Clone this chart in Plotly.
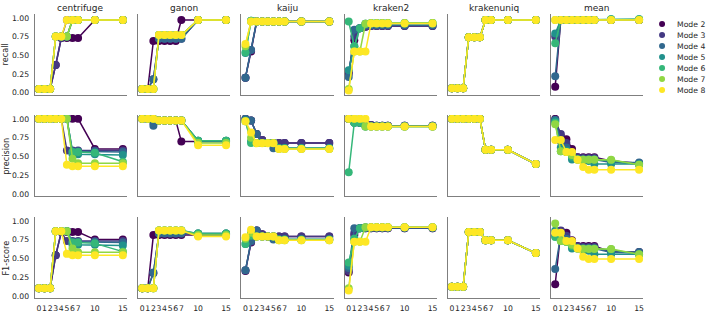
import plotly.graph_objects as go

# ---------------- data ----------------
X = [0, 1, 2, 3, 4, 5, 6, 7, 10, 15]
X_TICKS = [0, 1, 2, 3, 4, 5, 6, 7, 10, 15]
Y_TICKS = [0.0, 0.25, 0.5, 0.75, 1.0]
Y_TICK_TEXT = ["0.00", "0.25", "0.50", "0.75", "1.00"]
MODES = ["Mode 2", "Mode 3", "Mode 4", "Mode 5", "Mode 6", "Mode 7", "Mode 8"]
COLORS = ["#440154", "#443983", "#31688e", "#21918c", "#35b779", "#90d743", "#fde725"]
TOOLS = ["centrifuge", "ganon", "kaiju", "kraken2", "krakenuniq", "mean"]
METRICS = ["recall", "precision", "F1-score"]

# each list: one row per mode (Mode 2 ... Mode 8), values at X
CENTRIFUGE_RECALL = [
    [0.05, 0.05, 0.05, 0.37, 0.73, 0.73, 0.73, 0.73, 0.97, 0.97],
    [0.05, 0.05, 0.05, 0.37, 0.73, 0.97, 0.97, 0.97, 0.97, 0.97],
    [0.05, 0.05, 0.05, 0.75, 0.75, 0.75, 0.97, 0.97, 0.97, 0.97],
    [0.05, 0.05, 0.05, 0.75, 0.75, 0.75, 0.97, 0.97, 0.97, 0.97],
    [0.05, 0.05, 0.05, 0.75, 0.75, 0.75, 0.97, 0.97, 0.97, 0.97],
    [0.05, 0.05, 0.05, 0.75, 0.75, 0.75, 0.97, 0.97, 0.97, 0.97],
    [0.05, 0.05, 0.05, 0.75, 0.75, 0.97, 0.97, 0.97, 0.97, 0.97],
]
CENTRIFUGE_PRECISION = [
    [1.00, 1.00, 1.00, 1.00, 1.00, 1.00, 1.00, 1.00, 0.60, 0.60],
    [1.00, 1.00, 1.00, 1.00, 1.00, 0.58, 0.58, 0.58, 0.58, 0.58],
    [1.00, 1.00, 1.00, 1.00, 1.00, 1.00, 0.57, 0.57, 0.57, 0.56],
    [1.00, 1.00, 1.00, 1.00, 1.00, 1.00, 0.53, 0.53, 0.53, 0.52],
    [1.00, 1.00, 1.00, 1.00, 1.00, 1.00, 0.56, 0.56, 0.55, 0.43],
    [1.00, 1.00, 1.00, 1.00, 1.00, 1.00, 0.47, 0.41, 0.41, 0.41],
    [1.00, 1.00, 1.00, 1.00, 1.00, 0.39, 0.37, 0.37, 0.37, 0.37],
]
CENTRIFUGE_F1 = [
    [0.10, 0.10, 0.10, 0.54, 0.85, 0.85, 0.85, 0.85, 0.75, 0.75],
    [0.10, 0.10, 0.10, 0.54, 0.85, 0.73, 0.73, 0.73, 0.73, 0.73],
    [0.10, 0.10, 0.10, 0.86, 0.86, 0.86, 0.72, 0.72, 0.72, 0.71],
    [0.10, 0.10, 0.10, 0.86, 0.86, 0.86, 0.68, 0.68, 0.68, 0.67],
    [0.10, 0.10, 0.10, 0.86, 0.86, 0.86, 0.71, 0.71, 0.70, 0.59],
    [0.10, 0.10, 0.10, 0.86, 0.86, 0.86, 0.63, 0.58, 0.58, 0.58],
    [0.10, 0.10, 0.10, 0.86, 0.86, 0.56, 0.54, 0.54, 0.54, 0.54],
]

GANON_RECALL = [
    [0.05, 0.05, 0.69, 0.69, 0.69, 0.69, 0.69, 0.97, 0.97, 0.97],
    [0.05, 0.05, 0.18, 0.72, 0.72, 0.72, 0.72, 0.72, 0.97, 0.97],
    [0.05, 0.05, 0.18, 0.72, 0.72, 0.72, 0.72, 0.72, 0.97, 0.97],
    [0.05, 0.05, 0.05, 0.77, 0.77, 0.77, 0.77, 0.77, 0.97, 0.97],
    [0.05, 0.05, 0.05, 0.77, 0.77, 0.77, 0.77, 0.77, 0.97, 0.97],
    [0.05, 0.05, 0.05, 0.77, 0.77, 0.77, 0.77, 0.77, 0.97, 0.97],
    [0.05, 0.05, 0.05, 0.77, 0.77, 0.77, 0.77, 0.77, 0.97, 0.97],
]
GANON_PRECISION = [
    [1.00, 1.00, 1.00, 0.98, 0.98, 0.98, 0.98, 0.70, 0.70, 0.70],
    [1.00, 1.00, 0.95, 0.98, 0.98, 0.98, 0.98, 0.98, 0.70, 0.70],
    [1.00, 1.00, 0.91, 0.98, 0.98, 0.98, 0.98, 0.98, 0.71, 0.71],
    [1.00, 1.00, 1.00, 0.98, 0.98, 0.98, 0.98, 0.98, 0.71, 0.71],
    [1.00, 1.00, 1.00, 0.98, 0.98, 0.98, 0.98, 0.98, 0.71, 0.71],
    [1.00, 1.00, 1.00, 0.98, 0.98, 0.98, 0.98, 0.98, 0.68, 0.68],
    [1.00, 1.00, 1.00, 0.98, 0.98, 0.98, 0.98, 0.98, 0.65, 0.65],
]
GANON_F1 = [
    [0.10, 0.10, 0.81, 0.81, 0.81, 0.81, 0.81, 0.81, 0.81, 0.81],
    [0.10, 0.10, 0.30, 0.83, 0.83, 0.83, 0.83, 0.83, 0.82, 0.82],
    [0.10, 0.10, 0.31, 0.83, 0.83, 0.83, 0.83, 0.83, 0.83, 0.83],
    [0.10, 0.10, 0.10, 0.87, 0.87, 0.87, 0.87, 0.87, 0.83, 0.83],
    [0.10, 0.10, 0.10, 0.87, 0.87, 0.87, 0.87, 0.87, 0.83, 0.83],
    [0.10, 0.10, 0.10, 0.87, 0.87, 0.87, 0.87, 0.87, 0.81, 0.81],
    [0.10, 0.10, 0.10, 0.87, 0.87, 0.87, 0.87, 0.87, 0.79, 0.79],
]

KAIJU_RECALL = [
    [0.20, 0.55, 0.95, 0.95, 0.95, 0.95, 0.95, 0.95, 0.95, 0.95],
    [0.20, 0.57, 0.95, 0.95, 0.95, 0.95, 0.95, 0.95, 0.95, 0.95],
    [0.20, 0.57, 0.95, 0.95, 0.95, 0.95, 0.95, 0.95, 0.95, 0.95],
    [0.53, 0.96, 0.95, 0.95, 0.95, 0.95, 0.95, 0.95, 0.95, 0.95],
    [0.54, 0.96, 0.95, 0.95, 0.95, 0.95, 0.95, 0.95, 0.95, 0.95],
    [0.62, 0.95, 0.95, 0.95, 0.95, 0.95, 0.95, 0.95, 0.95, 0.95],
    [0.65, 0.95, 0.95, 0.95, 0.95, 0.95, 0.95, 0.95, 0.95, 0.95],
]
KAIJU_PRECISION = [
    [1.00, 0.98, 0.80, 0.72, 0.68, 0.68, 0.68, 0.68, 0.68, 0.68],
    [1.00, 0.98, 0.80, 0.72, 0.68, 0.68, 0.68, 0.68, 0.68, 0.68],
    [1.00, 0.98, 0.80, 0.68, 0.68, 0.61, 0.61, 0.61, 0.61, 0.61],
    [0.98, 0.70, 0.68, 0.68, 0.68, 0.68, 0.61, 0.61, 0.61, 0.61],
    [0.97, 0.68, 0.68, 0.68, 0.68, 0.68, 0.61, 0.61, 0.61, 0.61],
    [0.97, 0.75, 0.68, 0.68, 0.68, 0.68, 0.60, 0.60, 0.60, 0.60],
    [0.97, 0.82, 0.675, 0.675, 0.675, 0.675, 0.60, 0.60, 0.60, 0.60],
]
KAIJU_F1 = [
    [0.33, 0.71, 0.87, 0.82, 0.79, 0.79, 0.79, 0.79, 0.79, 0.79],
    [0.34, 0.72, 0.87, 0.82, 0.79, 0.79, 0.79, 0.79, 0.79, 0.79],
    [0.34, 0.73, 0.87, 0.79, 0.79, 0.75, 0.75, 0.75, 0.75, 0.75],
    [0.69, 0.81, 0.79, 0.79, 0.79, 0.79, 0.75, 0.75, 0.75, 0.75],
    [0.69, 0.80, 0.79, 0.79, 0.79, 0.79, 0.75, 0.75, 0.75, 0.75],
    [0.76, 0.84, 0.79, 0.79, 0.79, 0.79, 0.74, 0.74, 0.74, 0.74],
    [0.78, 0.88, 0.79, 0.79, 0.79, 0.79, 0.74, 0.74, 0.74, 0.74],
]

KRAKEN2_RECALL = [
    [0.27, 0.70, 0.86, 0.88, 0.89, 0.89, 0.89, 0.89, 0.89, 0.89],
    [0.25, 0.75, 0.86, 0.88, 0.89, 0.89, 0.89, 0.89, 0.89, 0.89],
    [0.21, 0.84, 0.86, 0.90, 0.90, 0.90, 0.90, 0.90, 0.90, 0.90],
    [0.30, 0.62, 0.86, 0.92, 0.92, 0.92, 0.92, 0.92, 0.92, 0.92],
    [0.95, 0.62, 0.86, 0.92, 0.93, 0.93, 0.93, 0.93, 0.93, 0.93],
    [0.05, 0.55, 0.55, 0.92, 0.93, 0.93, 0.93, 0.93, 0.93, 0.93],
    [0.03, 0.55, 0.55, 0.55, 0.925, 0.925, 0.925, 0.925, 0.925, 0.925],
]
KRAKEN2_PRECISION = [
    [1.00, 0.97, 0.95, 0.93, 0.92, 0.91, 0.91, 0.91, 0.91, 0.91],
    [1.00, 0.97, 0.95, 0.93, 0.92, 0.91, 0.91, 0.91, 0.91, 0.91],
    [1.00, 0.95, 0.95, 0.92, 0.91, 0.91, 0.91, 0.91, 0.91, 0.91],
    [1.00, 0.95, 0.95, 0.90, 0.90, 0.90, 0.90, 0.90, 0.90, 0.90],
    [0.29, 0.95, 0.95, 0.90, 0.90, 0.90, 0.90, 0.90, 0.90, 0.90],
    [1.00, 1.00, 1.00, 0.90, 0.90, 0.90, 0.90, 0.90, 0.90, 0.90],
    [1.00, 1.00, 1.00, 1.00, 0.90, 0.90, 0.90, 0.90, 0.90, 0.90],
]
KRAKEN2_F1 = [
    [0.31, 0.81, 0.90, 0.90, 0.90, 0.90, 0.90, 0.90, 0.90, 0.90],
    [0.33, 0.84, 0.90, 0.90, 0.90, 0.90, 0.90, 0.90, 0.90, 0.90],
    [0.37, 0.90, 0.90, 0.91, 0.91, 0.91, 0.91, 0.91, 0.91, 0.91],
    [0.40, 0.76, 0.90, 0.91, 0.91, 0.91, 0.91, 0.91, 0.91, 0.91],
    [0.445, 0.76, 0.90, 0.91, 0.915, 0.915, 0.915, 0.915, 0.915, 0.915],
    [0.10, 0.72, 0.72, 0.915, 0.915, 0.915, 0.915, 0.915, 0.915, 0.915],
    [0.07, 0.72, 0.72, 0.72, 0.915, 0.915, 0.915, 0.915, 0.915, 0.915],
]

KRAKENUNIQ_RECALL = [
    [0.06, 0.06, 0.06, 0.74, 0.74, 0.74, 0.97, 0.97, 0.97, 0.97],
    [0.06, 0.06, 0.06, 0.74, 0.74, 0.74, 0.97, 0.97, 0.97, 0.97],
    [0.06, 0.06, 0.06, 0.74, 0.74, 0.74, 0.97, 0.97, 0.97, 0.97],
    [0.06, 0.06, 0.06, 0.74, 0.74, 0.74, 0.97, 0.97, 0.97, 0.97],
    [0.06, 0.06, 0.06, 0.74, 0.74, 0.74, 0.97, 0.97, 0.97, 0.97],
    [0.06, 0.06, 0.06, 0.74, 0.74, 0.74, 0.97, 0.97, 0.97, 0.97],
    [0.06, 0.06, 0.06, 0.74, 0.74, 0.74, 0.97, 0.97, 0.97, 0.97],
]
KRAKENUNIQ_PRECISION = [
    [1.00, 1.00, 1.00, 1.00, 1.00, 1.00, 0.59, 0.59, 0.59, 0.40],
    [1.00, 1.00, 1.00, 1.00, 1.00, 1.00, 0.59, 0.59, 0.59, 0.40],
    [1.00, 1.00, 1.00, 1.00, 1.00, 1.00, 0.59, 0.59, 0.59, 0.40],
    [1.00, 1.00, 1.00, 1.00, 1.00, 1.00, 0.59, 0.59, 0.59, 0.40],
    [1.00, 1.00, 1.00, 1.00, 1.00, 1.00, 0.59, 0.59, 0.59, 0.40],
    [1.00, 1.00, 1.00, 1.00, 1.00, 1.00, 0.59, 0.59, 0.59, 0.40],
    [1.00, 1.00, 1.00, 1.00, 1.00, 1.00, 0.59, 0.59, 0.59, 0.40],
]
KRAKENUNIQ_F1 = [
    [0.12, 0.12, 0.12, 0.85, 0.85, 0.85, 0.74, 0.74, 0.74, 0.57],
    [0.12, 0.12, 0.12, 0.85, 0.85, 0.85, 0.74, 0.74, 0.74, 0.57],
    [0.12, 0.12, 0.12, 0.85, 0.85, 0.85, 0.74, 0.74, 0.74, 0.57],
    [0.12, 0.12, 0.12, 0.85, 0.85, 0.85, 0.74, 0.74, 0.74, 0.57],
    [0.12, 0.12, 0.12, 0.85, 0.85, 0.85, 0.74, 0.74, 0.74, 0.57],
    [0.12, 0.12, 0.12, 0.85, 0.85, 0.85, 0.74, 0.74, 0.74, 0.57],
    [0.12, 0.12, 0.12, 0.85, 0.85, 0.85, 0.74, 0.74, 0.74, 0.57],
]

MEAN_RECALL = [
    [0.08, 0.97, 0.97, 0.97, 0.97, 0.97, 0.97, 0.97, 0.97, 0.97],
    [0.75, 0.97, 0.97, 0.97, 0.97, 0.97, 0.97, 0.97, 0.97, 0.97],
    [0.22, 0.97, 0.97, 0.97, 0.97, 0.97, 0.97, 0.97, 0.97, 0.97],
    [0.79, 0.97, 0.97, 0.97, 0.97, 0.97, 0.97, 0.97, 0.98, 0.98],
    [0.66, 0.97, 0.97, 0.97, 0.97, 0.97, 0.97, 0.97, 0.98, 0.98],
    [0.97, 0.97, 0.97, 0.97, 0.97, 0.97, 0.97, 0.97, 0.97, 0.97],
    [0.97, 0.97, 0.97, 0.97, 0.97, 0.97, 0.97, 0.97, 0.97, 0.97],
]
MEAN_PRECISION = [
    [1.00, 0.77, 0.73, 0.60, 0.49, 0.49, 0.49, 0.49, 0.44, 0.41],
    [0.98, 0.80, 0.68, 0.55, 0.49, 0.48, 0.48, 0.48, 0.43, 0.40],
    [0.99, 0.70, 0.62, 0.52, 0.47, 0.46, 0.46, 0.46, 0.42, 0.42],
    [0.97, 0.62, 0.58, 0.46, 0.46, 0.44, 0.44, 0.40, 0.40, 0.40],
    [0.95, 0.57, 0.56, 0.50, 0.46, 0.46, 0.46, 0.46, 0.45, 0.39],
    [0.93, 0.57, 0.56, 0.52, 0.46, 0.456, 0.456, 0.456, 0.456, 0.39],
    [0.72, 0.72, 0.56, 0.56, 0.456, 0.36, 0.325, 0.325, 0.325, 0.325],
]
MEAN_F1 = [
    [0.155, 0.864, 0.84, 0.74, 0.665, 0.665, 0.665, 0.665, 0.586, 0.586],
    [0.80, 0.87, 0.80, 0.70, 0.66, 0.65, 0.65, 0.65, 0.58, 0.57],
    [0.357, 0.82, 0.76, 0.68, 0.64, 0.63, 0.63, 0.63, 0.58, 0.586],
    [0.868, 0.76, 0.72, 0.63, 0.63, 0.60, 0.60, 0.555, 0.555, 0.555],
    [0.785, 0.73, 0.72, 0.66, 0.63, 0.63, 0.63, 0.63, 0.62, 0.55],
    [0.965, 0.73, 0.72, 0.68, 0.63, 0.626, 0.626, 0.626, 0.626, 0.555],
    [0.84, 0.84, 0.73, 0.73, 0.63, 0.52, 0.49, 0.49, 0.49, 0.49],
]

PANELS = {
    ("centrifuge", "recall"): CENTRIFUGE_RECALL,
    ("centrifuge", "precision"): CENTRIFUGE_PRECISION,
    ("centrifuge", "F1-score"): CENTRIFUGE_F1,
    ("ganon", "recall"): GANON_RECALL,
    ("ganon", "precision"): GANON_PRECISION,
    ("ganon", "F1-score"): GANON_F1,
    ("kaiju", "recall"): KAIJU_RECALL,
    ("kaiju", "precision"): KAIJU_PRECISION,
    ("kaiju", "F1-score"): KAIJU_F1,
    ("kraken2", "recall"): KRAKEN2_RECALL,
    ("kraken2", "precision"): KRAKEN2_PRECISION,
    ("kraken2", "F1-score"): KRAKEN2_F1,
    ("krakenuniq", "recall"): KRAKENUNIQ_RECALL,
    ("krakenuniq", "precision"): KRAKENUNIQ_PRECISION,
    ("krakenuniq", "F1-score"): KRAKENUNIQ_F1,
    ("mean", "recall"): MEAN_RECALL,
    ("mean", "precision"): MEAN_PRECISION,
    ("mean", "F1-score"): MEAN_F1,
}

# ---------------- layout ----------------
W, H = 708, 314
FONT = "DejaVu Sans"
TXT = "#262626"
SPINE = "#7f7f7f"
COL_LEFT = [34.8, 138.2, 241.6, 345.0, 448.4, 551.8]
COL_W = 92.4
ROW_DOM = [[0.698, 0.958], [0.3717, 0.6331], [0.0446, 0.3051]]

fig = go.Figure()
layout = {}
for r, metric in enumerate(METRICS):
    for c, tool in enumerate(TOOLS):
        idx = r * 6 + c + 1
        xa = "x" if idx == 1 else f"x{idx}"
        ya = "y" if idx == 1 else f"y{idx}"
        for m, vals in enumerate(PANELS[(tool, metric)]):
            fig.add_trace(go.Scatter(
                x=X, y=vals, mode="lines+markers", xaxis=xa, yaxis=ya,
                line=dict(color=COLORS[m], width=1.5),
                marker=dict(color=COLORS[m], size=8),
                name=MODES[m], showlegend=False, hoverinfo="skip"))
        xk = "xaxis" if idx == 1 else f"xaxis{idx}"
        yk = "yaxis" if idx == 1 else f"yaxis{idx}"
        layout[xk] = dict(
            domain=[COL_LEFT[c] / W, (COL_LEFT[c] + COL_W) / W], anchor=ya,
            range=[-0.75, 15.75], showline=True, linecolor=SPINE, linewidth=1.3,
            showgrid=False, zeroline=False, ticks="", tickvals=X_TICKS,
            tickangle=0, showticklabels=(r == 2), ticklabelstandoff=2,
            tickfont=dict(family=FONT, size=7.7, color=TXT))
        layout[yk] = dict(
            domain=ROW_DOM[r], anchor=xa, range=[-0.03, 1.05],
            showline=True, linecolor=SPINE, linewidth=1.3,
            showgrid=False, zeroline=False, ticks="",
            tickvals=Y_TICKS, ticktext=Y_TICK_TEXT,
            showticklabels=(c == 0), ticklabelstandoff=3,
            tickfont=dict(family=FONT, size=7.7, color=TXT))

annotations = []
for c, tool in enumerate(TOOLS):
    annotations.append(dict(
        text=tool, xref="paper", yref="paper",
        x=(COL_LEFT[c] + COL_W / 2) / W, y=1 - 7.5 / H,
        xanchor="center", yanchor="middle", showarrow=False,
        font=dict(family=FONT, size=9, color=TXT)))
for r, metric in enumerate(METRICS):
    annotations.append(dict(
        text=metric, xref="paper", yref="paper",
        x=6 / W, y=(ROW_DOM[r][0] + ROW_DOM[r][1]) / 2,
        xanchor="center", yanchor="middle", textangle=-90, showarrow=False,
        font=dict(family=FONT, size=8.2, color=TXT)))

shapes = []
for m, name in enumerate(MODES):
    ypx = 23.3 + m * 11.1
    shapes.append(dict(
        type="circle", xref="paper", yref="paper",
        x0=(663 - 3) / W, x1=(663 + 3) / W,
        y0=1 - (ypx + 3) / H, y1=1 - (ypx - 3) / H,
        fillcolor=COLORS[m], line=dict(width=0)))
    annotations.append(dict(
        text=name, xref="paper", yref="paper",
        x=676 / W, y=1 - ypx / H, xanchor="left", yanchor="middle",
        showarrow=False, font=dict(family=FONT, size=7.7, color=TXT)))

fig.update_layout(
    width=W, height=H, margin=dict(l=0, r=0, t=0, b=0),
    paper_bgcolor="white", plot_bgcolor="white",
    showlegend=False, annotations=annotations, shapes=shapes,
    font=dict(family=FONT, color=TXT), **layout)

fig.write_html("out.html")
